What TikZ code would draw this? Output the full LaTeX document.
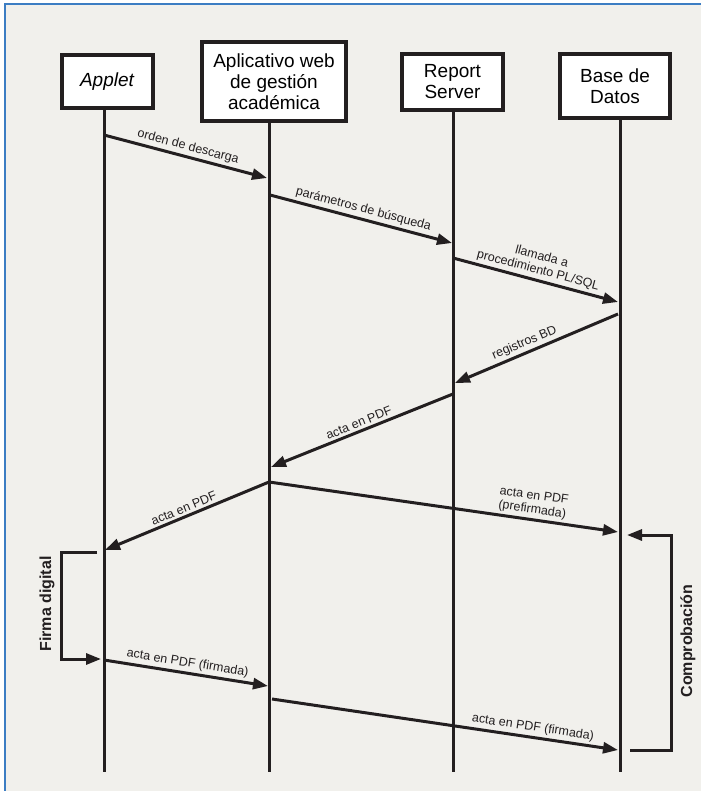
\documentclass[tikz,border=0pt]{standalone}
\usepackage{fontspec}
\setmainfont{Liberation Sans}
\usetikzlibrary{arrows.meta, positioning}
\definecolor{ink}{RGB}{35,31,32}
\definecolor{paper}{RGB}{241,240,236}
\definecolor{frameblue}{RGB}{60,125,195}

\begin{document}
\begin{tikzpicture}[
    x=1pt, y=-1pt,
    actor/.style={draw=ink, line width=4pt, fill=white, align=center, inner sep=0pt,
      font=\fontsize{19}{21}\selectfont},
    lifeline/.style={draw=ink, line width=3pt},
    msg/.style={draw=ink, line width=3pt, -{Triangle[length=15pt, width=11pt]}},
    msglabel/.style={font=\fontsize{12.5}{14}\selectfont, sloped, above, inner sep=2.5pt,
      align=center, text=ink},
    bracket/.style={draw=ink, line width=3pt},
    sidelabel/.style={font=\fontsize{16}{18}\selectfont\bfseries, rotate=90, text=ink},
  ]
    \useasboundingbox (0,0) rectangle (701,791);
    % background and frame
    \fill[white] (0,0) rectangle (701,791);
    \fill[paper] (5,4) rectangle (701,791);
    \draw[frameblue, line width=1.5pt] (5,791) -- (5,4) -- (701,4);
    % participants
    \node[actor, minimum width=91pt, minimum height=53pt] (applet) at (107,81.5) {\itshape Applet};
    \node[actor, minimum width=144pt, minimum height=79pt] (webapp) at (274,81.5)
      {Aplicativo web\\de gestión\\académica};
    \node[actor, minimum width=101pt, minimum height=56pt] (report) at (452.5,82) {Report\\Server};
    \node[actor, minimum width=110pt, minimum height=64pt] (bd) at (615,86) {Base de\\Datos};
    % lifelines
    \coordinate (laEnd) at (104,772);
    \coordinate (lwEnd) at (269,772);
    \coordinate (lrEnd) at (453,772);
    \coordinate (lbEnd) at (620,772);
    \draw[lifeline] (applet.south -| laEnd) -- (laEnd);
    \draw[lifeline] (webapp.south -| lwEnd) -- (lwEnd);
    \draw[lifeline] (report.south -| lrEnd) -- (lrEnd);
    \draw[lifeline] (bd.south -| lbEnd) -- (lbEnd);
    % message end points
    \coordinate (m1a) at (104,135);  \coordinate (m1b) at (267,178);
    \coordinate (m2a) at (270,195);  \coordinate (m2b) at (452,243);
    \coordinate (m3a) at (453,258);  \coordinate (m3b) at (618,302);
    \coordinate (m4a) at (618,314);  \coordinate (m4b) at (455,383);
    \coordinate (m5a) at (453,394);  \coordinate (m5b) at (271,467);
    \coordinate (m6a) at (269,482);  \coordinate (m6b) at (105,550);
    \coordinate (m7b) at (618,532);
    \coordinate (m8a) at (104,660);  \coordinate (m8b) at (268,686);
    \coordinate (m9a) at (272,699);  \coordinate (m9b) at (618,750);
    % messages
    \draw[msg] (m1a) -- (m1b) node[msglabel, midway] {orden de descarga};
    \draw[msg] (m2a) -- (m2b) node[msglabel, midway] {parámetros de búsqueda};
    \draw[msg] (m3a) -- (m3b) node[msglabel, midway] {llamada a\\procedimiento PL/SQL};
    \draw[msg] (m4a) -- (m4b) node[msglabel, pos=0.55] {registros BD};
    \draw[msg] (m5a) -- (m5b) node[msglabel, midway] {acta en PDF};
    \draw[msg] (m6a) -- (m6b) node[msglabel, midway] {acta en PDF};
    \draw[msg] (m6a) -- (m7b) node[msglabel, pos=0.75] {acta en PDF\\(prefirmada)};
    \draw[msg] (m8a) -- (m8b) node[msglabel, midway] {acta en PDF (firmada)};
    \draw[msg] (m9a) -- (m9b) node[msglabel, pos=0.75] {acta en PDF (firmada)};
    % firma digital
    \coordinate (fd1) at (97,552);
    \coordinate (fd2) at (101,659);
    \draw[bracket, -{Triangle[length=15pt, width=11pt]}] (fd1) -- (61,552) |- (fd2);
    \node[sidelabel] (firma) at (47,604) {Firma digital};
    % comprobacion
    \coordinate (cp1) at (630,750);
    \coordinate (cp2) at (627,535);
    \draw[bracket, -{Triangle[length=15pt, width=11pt]}] (cp1) -- (671,750) |- (cp2);
    \node[sidelabel] (compr) at (688,641) {Comprobación};
\end{tikzpicture}
\end{document}
